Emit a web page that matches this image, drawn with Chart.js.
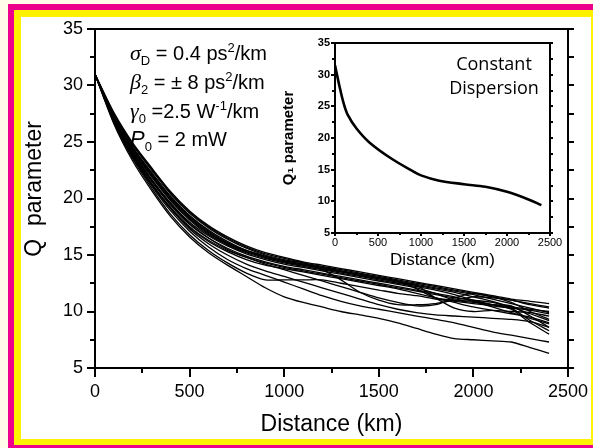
<!DOCTYPE html>
<html>
<head>
<meta charset="utf-8">
<script src="https://cdn.jsdelivr.net/npm/chart.js@4.4.1/dist/chart.umd.min.js"></script>
<style>
  html, body { margin: 0; padding: 0; width: 593px; height: 448px; overflow: hidden; background: #fffde9; }
  .band { position: absolute; }
  #mag { left: 8px; top: 4px; width: 600px; height: 450px; background: #ec008c; }
  #yel { left: 14px; top: 10px; width: 590px; height: 435px; background: #fff200; }
  #pane { left: 21px; top: 17px; width: 570px; height: 422px; background: #fff; }
  canvas { position: absolute; left: 0; top: 0; }
</style>
</head>
<body>
<div class="band" id="mag"></div>
<div class="band" id="yel"></div>
<div class="band" id="pane"></div>
<canvas id="mainChart" width="593" height="448"></canvas>
<canvas id="insetChart" width="593" height="448"></canvas>
<script>
// Distance samples (km) for the main plot
const DIST = [0, 100, 200, 300, 400, 500, 600, 700, 800, 900, 1000, 1100, 1200,
  1300, 1400, 1500, 1600, 1700, 1800, 1900, 2000, 2100, 2200, 2300, 2400];

// Q parameter runs (main bundle)
const run01 = [31, 27.6, 24.9, 22.7, 20.6, 18.9, 17.6, 16.6, 15.8, 15.2, 14.8, 14.4, 14.1, 13.8, 13.5, 13.2, 12.9, 12.6, 12.3, 12.0, 11.7, 11.4, 11.1, 10.9, 10.7];
const run02 = [31, 27.4, 24.7, 22.5, 20.4, 18.7, 17.4, 16.4, 15.6, 15.0, 14.6, 14.3, 14.0, 13.7, 13.4, 13.1, 12.8, 12.5, 12.2, 11.9, 11.6, 11.3, 11.0, 10.7, 10.4];
const run03 = [31, 27.3, 24.5, 22.3, 20.2, 18.5, 17.2, 16.2, 15.4, 14.9, 14.5, 14.2, 13.9, 13.6, 13.3, 13.0, 12.7, 12.4, 12.1, 11.8, 11.5, 11.1, 10.7, 10.3, 9.9];
const run04 = [31, 27.2, 24.4, 22.1, 20.0, 18.3, 17.0, 16.0, 15.3, 14.8, 14.4, 14.1, 13.8, 13.5, 13.2, 12.9, 12.6, 12.3, 12.0, 11.7, 11.3, 10.9, 10.4, 9.8, 9.2];
const run05 = [31, 27.1, 24.2, 21.9, 19.8, 18.1, 16.8, 15.9, 15.2, 14.7, 14.3, 14.0, 13.7, 13.4, 13.1, 12.8, 12.5, 12.2, 11.9, 11.5, 11.0, 10.6, 10.4, 10.2, 10.0];
const run06 = [31, 27.0, 24.1, 21.7, 19.6, 17.9, 16.7, 15.8, 15.1, 14.6, 14.2, 13.9, 13.6, 13.3, 13.0, 12.7, 12.4, 12.1, 11.6, 11.0, 10.8, 10.6, 10.5, 9.6, 8.6];
const run07 = [31, 26.9, 23.9, 21.5, 19.4, 17.7, 16.5, 15.6, 14.9, 14.4, 14.0, 13.7, 13.4, 13.1, 12.8, 12.5, 12.2, 11.9, 11.6, 11.3, 10.9, 10.4, 9.9, 9.4, 8.9];
const run08 = [31, 26.9, 23.8, 21.3, 19.2, 17.5, 16.3, 15.4, 14.8, 14.3, 13.9, 13.6, 13.3, 13.0, 12.7, 12.4, 12.1, 11.8, 11.5, 11.2, 11.0, 10.8, 10.3, 9.2, 8.3];
const run09 = [31, 26.8, 23.7, 21.2, 19.1, 17.4, 16.2, 15.3, 14.6, 14.1, 13.8, 13.5, 13.2, 12.9, 12.6, 12.3, 12.0, 11.6, 11.2, 10.8, 10.4, 10.1, 9.8, 9.5, 9.0];
const run10 = [31, 27.2, 24.3, 22.0, 19.9, 18.2, 16.9, 16.0, 15.3, 14.8, 14.4, 14.1, 13.8, 13.5, 13.2, 12.9, 12.6, 12.3, 11.2, 10.3, 10.0, 10.1, 10.0, 9.9, 9.6];
const run11 = [31, 27.3, 24.5, 22.2, 20.1, 18.4, 17.1, 16.1, 15.4, 14.9, 14.5, 14.2, 13.9, 13.6, 13.3, 13.0, 12.7, 12.0, 11.2, 11.0, 10.9, 10.6, 10.2, 9.0, 8.0];
const run12 = [31, 27.5, 24.8, 22.6, 20.5, 18.8, 17.5, 16.5, 15.7, 15.1, 14.7, 14.3, 13.7, 12.8, 11.7, 11.0, 10.6, 10.6, 10.7, 11.0, 11.3, 11.2, 11.0, 10.6, 10.3];
// runs that drop away from the bundle
const run13 = [31, 26.6, 23.3, 20.7, 18.4, 16.6, 15.2, 14.1, 13.1, 12.1, 11.3, 10.8, 10.4, 10.0, 9.7, 9.4, 9.0, 8.5, 8.0, 7.6, 7.5, 7.4, 7.3, 6.8, 6.3];
const run14 = [31, 26.7, 23.5, 20.9, 18.6, 16.8, 15.4, 14.3, 13.4, 12.8, 12.8, 12.8, 12.8, 12.5, 12.2, 11.9, 11.6, 11.4, 11.1, 10.9, 10.7, 10.5, 10.3, 10.1, 9.8];
const run15 = [31, 26.8, 23.6, 21.1, 18.9, 17.1, 15.7, 14.6, 13.8, 13.2, 12.6, 12.0, 11.4, 10.9, 10.5, 10.2, 9.9, 9.6, 9.3, 9.0, 8.6, 8.2, 7.9, 7.6, 7.3];
const run16 = [31, 26.9, 23.8, 21.3, 19.1, 17.3, 16.0, 15.0, 14.2, 13.6, 13.1, 12.6, 12.1, 11.6, 11.1, 10.6, 10.2, 9.9, 9.7, 9.6, 9.5, 9.4, 9.3, 9.1, 8.6];
const run17 = [31, 27.0, 24.0, 21.6, 19.5, 17.8, 16.5, 15.5, 14.8, 14.2, 13.7, 13.2, 12.7, 12.2, 11.7, 11.2, 10.8, 10.5, 10.6, 11.2, 11.6, 11.3, 10.8, 10.0, 9.3];

// Inset: constant dispersion
const INSET_DIST = [0, 50, 100, 150, 250, 400, 650, 900, 1000, 1200, 1500, 1750, 2000, 2250, 2400];
const INSET_Q1 = [31.5, 28.3, 25.5, 23.6, 21.5, 19.3, 16.8, 14.8, 14.1, 13.3, 12.7, 12.3, 11.5, 10.3, 9.4];

// Axis ticks
const Y_TICKS = [5, 10, 15, 20, 25, 30, 35];
const Y_MINOR = [7.5, 12.5, 17.5, 22.5, 27.5, 32.5];
const X_TICKS = [0, 500, 1000, 1500, 2000, 2500];
const X_MINOR = [250, 750, 1250, 1750, 2250];

const runs = [run01, run02, run03, run04, run05, run06, run07, run08, run09,
  run10, run11, run12, run13, run14, run15, run16, run17];

const FONT = "'Liberation Sans', Arial, sans-serif";

// frame + outward tick marks drawn through the scales
const axisFrame = {
  id: "axisFrame",
  afterDatasetsDraw(chart, args, opts) {
    const ctx = chart.ctx;
    const a = chart.chartArea;
    ctx.save();
    ctx.strokeStyle = "#000";
    ctx.lineWidth = opts.width;
    ctx.strokeRect(a.left, a.top, a.right - a.left, a.bottom - a.top);
    opts.marks.forEach((m) => {
      const s = chart.scales[m.scale];
      const draw = (vals, len) => {
        vals.forEach((v) => {
          const p = Math.round(s.getPixelForValue(v));
          ctx.beginPath();
          if (m.side === "left") { ctx.moveTo(a.left, p); ctx.lineTo(a.left - len, p); }
          if (m.side === "right") { ctx.moveTo(a.right, p); ctx.lineTo(a.right + len, p); }
          if (m.side === "bottom") { ctx.moveTo(p, a.bottom); ctx.lineTo(p, a.bottom + len); }
          ctx.stroke();
        });
      };
      draw(m.major, m.majorLen);
      draw(m.minor, m.minorLen);
    });
    ctx.restore();
  },
};

// little text blocks with sub/superscripts
function drawRich(ctx, x, y, parts) {
  parts.forEach((p) => {
    ctx.font = p.f;
    ctx.fillText(p.t, x, y + (p.dy || 0));
    x += ctx.measureText(p.t).width;
  });
}

const notes = {
  id: "notes",
  afterDraw(chart) {
    const ctx = chart.ctx;
    const big = "20px " + FONT;
    const sub = "13px " + FONT;
    const greek = "italic 22px 'Liberation Serif', serif";
    ctx.save();
    ctx.fillStyle = "#000";
    ctx.textBaseline = "alphabetic";
    drawRich(ctx, 130, 60, [
      { t: "σ", f: greek }, { t: "D", f: sub, dy: 5 },
      { t: " = 0.4 ps", f: big }, { t: "2", f: sub, dy: -8 }, { t: "/km", f: big },
    ]);
    drawRich(ctx, 130, 89, [
      { t: "β", f: greek }, { t: "2", f: sub, dy: 5 },
      { t: " = ± 8 ps", f: big }, { t: "2", f: sub, dy: -8 }, { t: "/km", f: big },
    ]);
    drawRich(ctx, 130, 118, [
      { t: "γ", f: greek }, { t: "0", f: sub, dy: 5 },
      { t: " =2.5 W", f: big }, { t: "-1", f: sub, dy: -8 }, { t: "/km", f: big },
    ]);
    drawRich(ctx, 130, 146, [
      { t: "P", f: "italic 22px " + FONT }, { t: "0", f: sub, dy: 5 },
      { t: " = 2 mW", f: big },
    ]);
    ctx.restore();
  },
};

const insetNote = {
  id: "insetNote",
  afterDraw(chart) {
    const ctx = chart.ctx;
    ctx.save();
    ctx.fillStyle = "#000";
    ctx.textAlign = "center";
    ctx.font = "18px 'Open Sans', sans-serif";
    ctx.fillText("Constant", 494, 70);
    ctx.fillText("Dispersion", 494, 94);
    ctx.restore();
  },
};

function fixTicks(list) {
  return (scale) => { scale.ticks = list.map((v) => ({ value: v })); };
}

const plainLabel = (v) => String(v);

const hiddenGrid = (len) => ({
  display: true, drawOnChartArea: false, drawTicks: true,
  tickLength: len, tickColor: "rgba(0,0,0,0)",
});

// Main chart
const mainDatasets = runs.map((r, i) => ({
  label: "run " + (i + 1),
  data: r.map((q, k) => ({ x: DIST[k], y: q })),
  borderColor: "#000",
  borderWidth: 1.3,
  pointRadius: 0,
  tension: 0.25,
  fill: false,
}));

new Chart(document.getElementById("mainChart"), {
  type: "line",
  data: { datasets: mainDatasets },
  options: {
    responsive: false,
    animation: false,
    devicePixelRatio: 1,
    layout: { padding: { left: 21, top: 29, right: 15, bottom: 10 } },
    plugins: {
      legend: { display: false },
      tooltip: { enabled: false },
      axisFrame: {
        width: 2,
        marks: [
          { scale: "y", side: "left", major: Y_TICKS, minor: Y_MINOR, majorLen: 8, minorLen: 5 },
          { scale: "y2", side: "right", major: Y_TICKS, minor: Y_MINOR, majorLen: 6, minorLen: 6 },
          { scale: "x", side: "bottom", major: X_TICKS, minor: X_MINOR, majorLen: 9, minorLen: 5 },
        ],
      },
    },
    scales: {
      x: {
        type: "linear", position: "bottom", min: 0, max: 2500,
        afterBuildTicks: fixTicks(X_TICKS),
        afterFit: (s) => { s.height = 70; },
        grid: hiddenGrid(9), border: { display: false },
        ticks: { color: "#000", font: { family: FONT, size: 18 }, padding: 4, maxRotation: 0, autoSkip: false, callback: plainLabel },
        title: { display: true, text: "Distance (km)", color: "#000", font: { family: FONT, size: 23 }, padding: { top: 0, bottom: 0 } },
      },
      y: {
        type: "linear", position: "left", min: 5, max: 35,
        afterBuildTicks: fixTicks(Y_TICKS),
        afterFit: (s) => { s.width = 74; },
        grid: hiddenGrid(8), border: { display: false },
        ticks: { color: "#000", font: { family: FONT, size: 18 }, padding: 4, autoSkip: false, callback: plainLabel },
        title: { display: true, text: "   Q  parameter", color: "#000", font: { family: FONT, size: 23 }, padding: { top: 0, bottom: 0 } },
      },
      y2: {
        type: "linear", position: "right", min: 5, max: 35,
        afterFit: (s) => { s.width = 10; },
        grid: { display: false }, border: { display: false },
        ticks: { display: false },
      },
    },
  },
  plugins: [axisFrame, notes],
});

// Inset chart
new Chart(document.getElementById("insetChart"), {
  type: "line",
  data: {
    datasets: [{
      label: "Q1",
      data: INSET_Q1.map((q, k) => ({ x: INSET_DIST[k], y: q })),
      borderColor: "#000",
      borderWidth: 2.6,
      pointRadius: 0,
      tension: 0.35,
      fill: false,
    }],
  },
  options: {
    responsive: false,
    animation: false,
    devicePixelRatio: 1,
    layout: { padding: { left: 280, top: 43, right: 37, bottom: 177 } },
    plugins: {
      legend: { display: false },
      tooltip: { enabled: false },
      axisFrame: {
        width: 2,
        marks: [
          { scale: "y", side: "left", major: Y_TICKS, minor: Y_MINOR, majorLen: 4, minorLen: 3 },
          { scale: "y2", side: "right", major: Y_TICKS, minor: Y_MINOR, majorLen: 3, minorLen: 3 },
          { scale: "x", side: "bottom", major: X_TICKS, minor: X_MINOR, majorLen: 3, minorLen: 2 },
        ],
      },
    },
    scales: {
      x: {
        type: "linear", position: "bottom", min: 0, max: 2500,
        afterBuildTicks: fixTicks(X_TICKS),
        afterFit: (s) => { s.height = 38; },
        grid: hiddenGrid(3), border: { display: false },
        ticks: { color: "#000", font: { family: FONT, size: 11 }, padding: 0, maxRotation: 0, autoSkip: false, callback: plainLabel },
        title: { display: true, text: "Distance (km)", color: "#000", font: { family: FONT, size: 17 }, padding: { top: 0, bottom: 0 } },
      },
      y: {
        type: "linear", position: "left", min: 5, max: 35,
        afterBuildTicks: fixTicks(Y_TICKS),
        afterFit: (s) => { s.width = 55; },
        grid: hiddenGrid(4), border: { display: false },
        ticks: { color: "#000", font: { family: FONT, size: 11, weight: "bold" }, padding: 1, autoSkip: false, callback: plainLabel },
        title: { display: true, text: "Q₁ parameter", color: "#000", font: { family: FONT, size: 15, weight: "bold" }, padding: { top: 0, bottom: 0 } },
      },
      y2: {
        type: "linear", position: "right", min: 5, max: 35,
        afterFit: (s) => { s.width = 6; },
        grid: { display: false }, border: { display: false },
        ticks: { display: false },
      },
    },
  },
  plugins: [axisFrame, insetNote],
});
</script>
</body>
</html>
